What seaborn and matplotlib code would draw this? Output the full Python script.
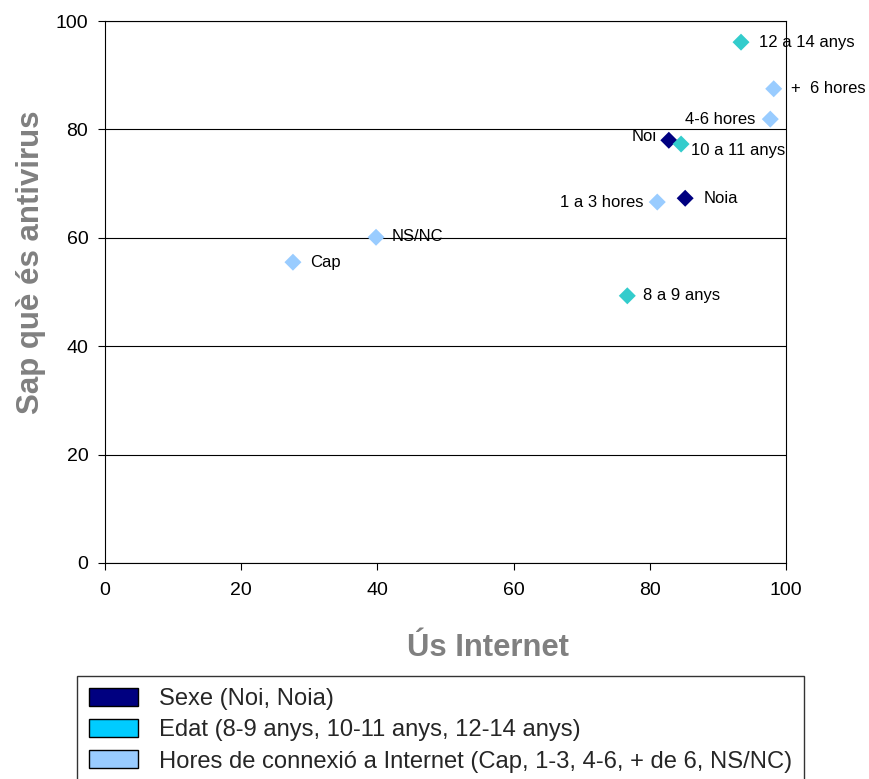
import matplotlib
matplotlib.use("Agg")
import matplotlib.pyplot as plt
from matplotlib.patches import Patch
import pandas as pd
import seaborn as sns

# Data
labels = ["Noi", "Noia",
          "8 a 9 anys", "10 a 11 anys", "12 a 14 anys",
          "Cap", "1 a 3 hores", "4-6 hores", "+  6 hores", "NS/NC"]
groups = ["Sexe", "Sexe",
          "Edat", "Edat", "Edat",
          "Hores", "Hores", "Hores", "Hores", "Hores"]
us_internet = [82.8, 85.2, 76.7, 84.6, 93.4, 27.6, 81.1, 97.7, 98.2, 39.8]
sap_antivirus = [78.0, 67.3, 49.3, 77.3, 96.1, 55.5, 66.6, 81.9, 87.5, 60.1]

legend_labels = ["Sexe (Noi, Noia)",
                 "Edat (8-9 anys, 10-11 anys, 12-14 anys)",
                 "Hores de connexió a Internet (Cap, 1-3, 4-6, + de 6, NS/NC)"]

marker_colors = {"Sexe": "#000080", "Edat": "#33CCCC", "Hores": "#99CCFF"}
legend_colors = ["#000080", "#00CCFF", "#99CCFF"]

# label offsets in pixels (dx, dy, horizontal alignment)
offsets = {
    "Noi": (-12, 4, "right"),
    "Noia": (18, 0, "left"),
    "8 a 9 anys": (16, 0, "left"),
    "10 a 11 anys": (10, -6, "left"),
    "12 a 14 anys": (18, 0, "left"),
    "Cap": (17, 0, "left"),
    "1 a 3 hores": (-14, 0, "right"),
    "4-6 hores": (-15, 0, "right"),
    "+  6 hores": (17, 0, "left"),
    "NS/NC": (16, 1, "left"),
}

df = pd.DataFrame({"label": labels, "group": groups,
                   "x": us_internet, "y": sap_antivirus})

sns.set_style("white")
plt.rcParams["font.family"] = ["Liberation Sans", "DejaVu Sans"]

fig = plt.figure(figsize=(8.7, 7.79), dpi=100)
ax = fig.add_axes([0.1207, 0.2773, 0.7827, 0.6957])

sns.scatterplot(data=df, x="x", y="y", hue="group", palette=marker_colors,
                marker="D", s=75, edgecolor="none", legend=False, ax=ax, zorder=3)

for _, row in df.iterrows():
    dx, dy, ha = offsets[row["label"]]
    ax.annotate(row["label"], (row["x"], row["y"]),
                xytext=(dx * 0.72, dy * 0.72), textcoords="offset points",
                ha=ha, va="center", fontsize=12, color="black",
                annotation_clip=False, zorder=4)

ax.set_xlim(0, 100)
ax.set_ylim(0, 100)
ax.set_xticks(range(0, 101, 20))
ax.set_yticks(range(0, 101, 20))
ax.tick_params(axis="both", labelsize=14, colors="black", direction="out",
               length=5, width=0.8, left=True, bottom=True)
ax.tick_params(axis="x", pad=9)
ax.tick_params(axis="y", pad=7)
ax.yaxis.grid(True, color="black", linewidth=0.8)
ax.xaxis.grid(False)
for sp in ax.spines.values():
    sp.set_color("black")
    sp.set_linewidth(0.8)

ax.set_xlabel("Ús Internet", fontsize=22.3, fontweight="bold", color="#808080")
ax.set_ylabel("Sap què és antivirus", fontsize=22.5, fontweight="bold",
              color="#808080")
ax.xaxis.set_label_coords(0.562, -0.13)
ax.yaxis.set_label_coords(-0.087, 0.555)

# legend box runs past the bottom edge, as in the original
handles = [Patch(facecolor=c, edgecolor="black", linewidth=1) for c in legend_colors]
leg = fig.legend(handles, legend_labels, loc="upper left",
                 bbox_to_anchor=(77 / 870, 1 - 676 / 779), bbox_transform=fig.transFigure,
                 fontsize=17.1, frameon=True, fancybox=False, edgecolor="black",
                 handlelength=2.05, handleheight=0.78, labelspacing=0.38,
                 borderpad=0.5, handletextpad=0.9, borderaxespad=0)
leg.get_frame().set_linewidth(1)

fig.savefig("out.png", dpi=100)
